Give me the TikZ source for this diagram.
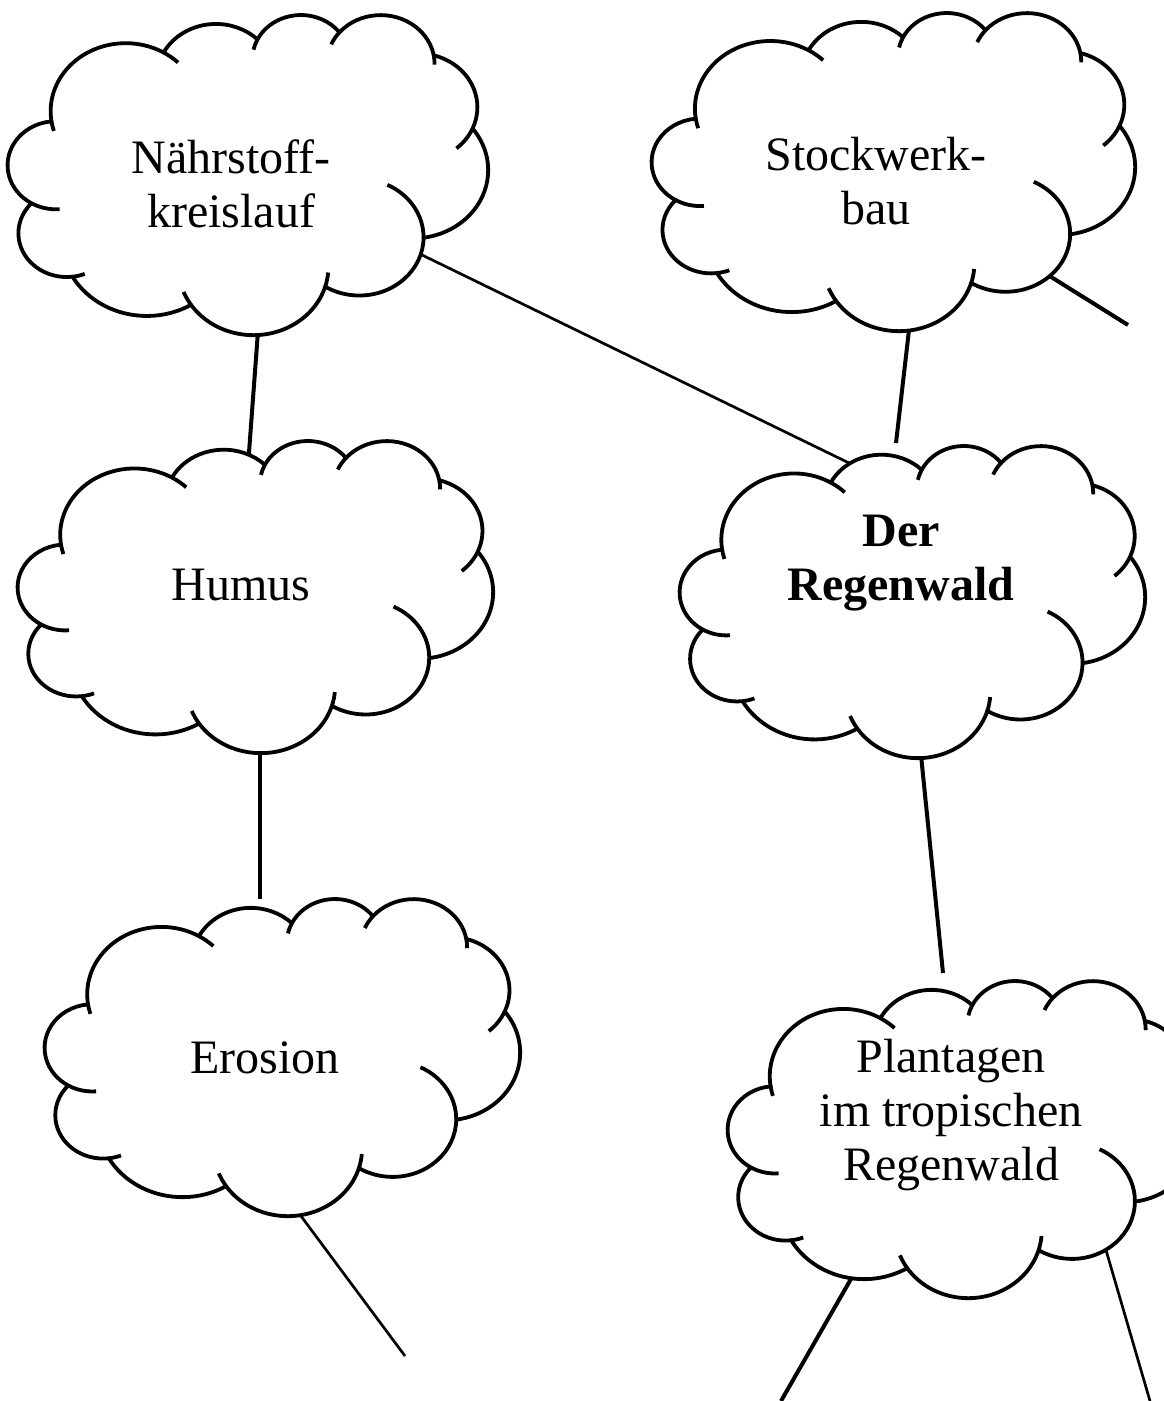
\documentclass[tikz,border=0pt]{standalone}
\usepackage{fontspec}
\setmainfont{Liberation Serif}
\usetikzlibrary{calc}

\pgfdeclarelayer{linien}
\pgfdeclarelayer{wolken}
\pgfsetlayers{linien,wolken,main}

\tikzset{begriff/.style={
  align=center,
  inner sep=2pt,
  font=\fontsize{24}{27}\selectfont
}}
\tikzset{wolkenrand/.style={
  draw=black,
  line width=1.9pt,
  line join=round,
  fill=white
}}
\tikzset{innenbogen/.style={
  draw=black,
  line width=1.9pt
}}
\tikzset{linie/.style={line width=2pt}}
\tikzset{duenn/.style={line width=1.35pt}}

% cloud round a node: name, dx, dy (cloud centre from node), width, height
\newcommand{\wolke}[5]{%
  \pgfmathsetmacro{\wx}{#4/200}%
  \pgfmathsetmacro{\wy}{#5/200}%
  \begin{pgfonlayer}{wolken}
  \begin{scope}[shift={($(#1)+(#2,#3)$)}, x=\wx pt, y=-\wy pt, shift={(-50,-50)}]
    \path[wolkenrand] (9.028,33.264) coordinate (j0)
      arc[start angle=172.25, end angle=300.36, x radius=15.632, y radius=21.273] coordinate (j1)
      arc[start angle=-152.02, end angle=-45.46, x radius=12.345, y radius=16.822] coordinate (j2)
      arc[start angle=-153.48, end angle=-37.33, x radius=10.104, y radius=13.762] coordinate (j3)
      arc[start angle=-139.70, end angle=-10.21, x radius=11.243, y radius=15.266] coordinate (j4)
      arc[start angle=-74.74, end angle=23.21, x radius=12.345, y radius=16.836] coordinate (j5)
      arc[start angle=-37.53, end angle=81.86, x radius=15.683, y radius=21.343] coordinate (j6)
      arc[start angle=0.46, end angle=122.01, x radius=13.391, y radius=18.211] coordinate (j7)
      arc[start angle=16.84, end angle=146.23, x radius=15.630, y radius=21.331] coordinate (j8)
      arc[start angle=59.03, end angle=150.17, x radius=17.870, y radius=24.405] coordinate (j9)
      arc[start angle=83.30, end angle=223.08, x radius=10.093, y radius=13.699] coordinate (j10)
      arc[start angle=120.39, end angle=264.11, x radius=10.058, y radius=13.762]
      -- cycle;
    % small inner arcs
    \path[innenbogen]
      (j0) arc[start angle=172.25, end angle=163.19, x radius=15.632, y radius=21.273]
      (j1) arc[start angle=-59.64, end angle=-45.74, x radius=15.632, y radius=21.273]
      (j2) arc[start angle=-153.48, end angle=-167.72, x radius=10.104, y radius=13.762]
      (j3) arc[start angle=-139.70, end angle=-156.28, x radius=11.243, y radius=15.266]
      (j4) arc[start angle=-10.21, end angle=0.82, x radius=11.243, y radius=15.266]
      (j5) arc[start angle=23.21, end angle=49.67, x radius=12.345, y radius=16.836]
      (j6) arc[start angle=0.46, end angle=-64.02, x radius=13.391, y radius=18.211]
      (j7) arc[start angle=16.84, end angle=4.74, x radius=15.630, y radius=21.331]
      (j8) arc[start angle=146.23, end angle=158.47, x radius=15.630, y radius=21.331]
      (j9) arc[start angle=83.30, end angle=68.25, x radius=10.093, y radius=13.699]
      (j10) arc[start angle=120.39, end angle=85.54, x radius=10.058, y radius=13.762];
  \end{scope}
  \end{pgfonlayer}}

\begin{document}
\begin{tikzpicture}[x=0.5pt, y=-0.5pt]

    \useasboundingbox (0,0) rectangle (1163,1401);
    \begin{pgfonlayer}{linien}
      \fill[white] (0,0) rectangle (1163,1401);
    \end{pgfonlayer}

    %% Begriffe
    \node[begriff] (nk) at (231,184) {Nährstoff-\\kreislauf};
    \node[begriff] (sw) at (876,181) {Stockwerk-\\bau};
    \node[begriff] (hum) at (241,585) {Humus};
    \node[begriff,font=\fontsize{24}{27}\selectfont\bfseries] (rw) at (901,563) {Der\\Regenwald};
    \node[begriff] (ero) at (265,1058) {Erosion};
    \node[begriff] (pl) at (951,1115) {Plantagen\\im tropischen\\Regenwald};

    %% Wolken
    \wolke{nk}{17}{-10}{480}{320}
    \wolke{sw}{17.5}{-10}{483}{318}
    \wolke{hum}{14.5}{11}{475}{312}
    \wolke{rw}{11.5}{38}{465}{312}
    \wolke{ero}{17.5}{-1.5}{475}{317}
    \wolke{pl}{12}{23.5}{470}{317}

    %% Verbindungen
    \coordinate (swend) at (1128,325);
    \coordinate (eroend) at (405,1356);
    \coordinate (plend1) at (781,1401);
    \coordinate (plend2) at (1150,1401);
    \begin{pgfonlayer}{linien}
      \draw[linie] ($(nk)+(27.6,139)$) -- ($(hum)+(6.4,-111)$);
      \draw[duenn] ($(nk)+(181.8,66.5)$) -- ($(rw)+(-44.8,-96.5)$);
      \draw[linie] ($(sw)+(33.9,141)$) -- ($(rw)+(-5,-120)$);
      \draw[linie] ($(sw)+(173.2,94.8)$) -- (swend);
      \draw[linie] ($(hum)+(19,164)$) -- ($(ero)+(-5,-159)$);
      \draw[duenn] ($(ero)+(31.2,151.6)$) -- (eroend);
      \draw[linie] ($(rw)+(20.2,194)$) -- ($(pl)+(-8,-142)$);
      \draw[linie] ($(pl)+(-88,143)$) -- (plend1);
      \draw[duenn] ($(pl)+(149.8,117.3)$) -- (plend2);
    \end{pgfonlayer}

\end{tikzpicture}
\end{document}
